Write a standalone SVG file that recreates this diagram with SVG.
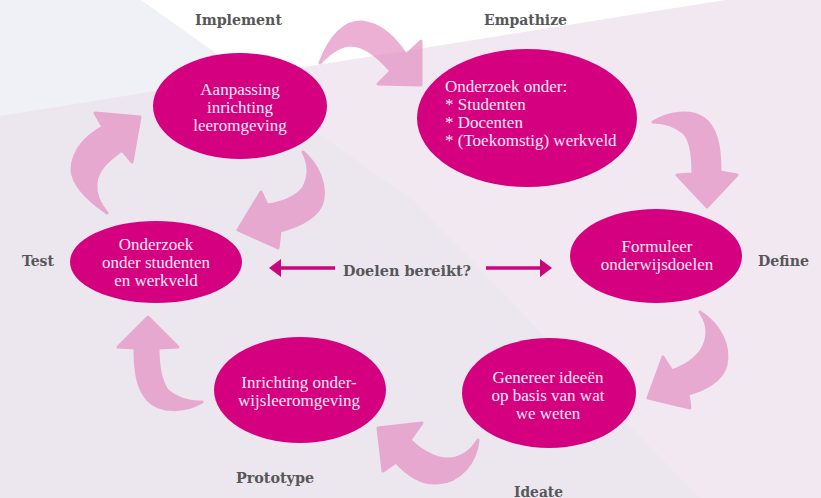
<svg xmlns="http://www.w3.org/2000/svg" width="821" height="498" viewBox="0 0 821 498">
  <style>
    .node { fill: #d5007f; }
    .ntext { font-family: "Liberation Serif", "DejaVu Serif", serif; font-size: 17px; fill: #fde9f5; }
    .label { font-family: "DejaVu Serif Condensed", "DejaVu Serif", serif; font-stretch: condensed; font-weight: bold; font-size: 15px; fill: #575757; }
    .cycle path { fill: #e48fc2; stroke: #e48fc2; stroke-width: 3; stroke-linejoin: round; }
    .goal { stroke: #c9067b; stroke-width: 3.5; fill: none; }
    .goalhead { fill: #c9067b; }
  </style>

  <!-- background planes -->
  <g id="background">
    <rect x="0" y="0" width="821" height="498" fill="#f1e8f1"/>
    <polygon points="0,116 248,76 327,140 413,200 524,315 633,430 700,498 0,498" fill="#ece6ef"/>
    <polygon points="0,0 141,0 248,76 0,116" fill="#f0f1f6"/>
    <polygon points="141,0 725,0 248,76" fill="#ffffff"/>
  </g>

  <!-- curved cycle arrows -->
  <g id="connectors">
    <g class="cycle" opacity="0.7">
      <path d="M320,63 C330,36 345,21 362,22 C380,24 395,38 406,55 L421,41 L421,85 L378,84 L391,71 C378,56 365,46 352,45 C340,45 330,52 320,63 Z"/>
      <path d="M653,122 C670,112 690,110 703,118 C716,127 720,145 720,172 L737,175 L707,207 L677,175 L693,174 C693,155 691,140 684,133 C675,125 665,122 653,122 Z"/>
      <path d="M700,312 C720,325 730,345 726,365 C722,380 705,390 688,394 L690,408 L648,398 L663,357 L672,371 C685,366 700,358 705,343 C709,332 707,322 700,312 Z"/>
      <path d="M478,440 C476,462 460,482 437,483 C420,484 405,472 396,462 L383,471 L378,428 L422,423 L410,440 C420,450 435,460 450,459 C462,458 472,450 478,440 Z"/>
      <path d="M202,402 C185,412 160,413 148,400 C137,388 135,370 135,348 L118,347 L148,317 L178,347 L158,348 C158,365 160,380 167,390 C178,400 190,402 202,402 Z"/>
      <path d="M107,213 C88,200 73,185 72,170 C72,150 88,135 103,127 L95,113 L140,117 L132,162 L122,150 C108,160 97,170 96,183 C95,195 100,205 107,213 Z"/>
      <path d="M303,152 C318,165 327,185 322,203 C317,218 298,226 280,231 L278,248 L238,230 L261,192 L267,205 C282,203 298,197 304,187 C310,175 309,163 303,152 Z"/>
    </g>
    <!-- goal check double arrow -->
    <g id="goal-check">
      <line class="goal" x1="279" y1="268" x2="335" y2="268"/>
      <polygon class="goalhead" points="269,268 281,259 281,277"/>
      <line class="goal" x1="486" y1="268" x2="542" y2="268"/>
      <polygon class="goalhead" points="552,268 540,259 540,277"/>
      <text class="label" x="407" y="276" text-anchor="middle" textLength="128" lengthAdjust="spacingAndGlyphs">Doelen bereikt?</text>
    </g>
  </g>

  <g id="implement">
    <ellipse class="node" cx="240" cy="106" rx="87" ry="53"/>
    <text class="ntext" text-anchor="middle"><tspan x="240" y="95">Aanpassing</tspan><tspan x="240" y="113">inrichting</tspan><tspan x="240" y="131">leeromgeving</tspan></text>
    <text class="label" x="238.5" y="25" text-anchor="middle" textLength="87" lengthAdjust="spacingAndGlyphs">Implement</text>
  </g>

  <g id="empathize">
    <ellipse class="node" cx="527" cy="118" rx="110" ry="69"/>
    <text class="ntext"><tspan x="445" y="92">Onderzoek onder:</tspan><tspan x="445" y="110">* Studenten</tspan><tspan x="445" y="128">* Docenten</tspan><tspan x="445" y="146">* (Toekomstig) werkveld</tspan></text>
    <text class="label" x="525.5" y="25" text-anchor="middle" textLength="83" lengthAdjust="spacingAndGlyphs">Empathize</text>
  </g>

  <g id="define">
    <ellipse class="node" cx="656" cy="256" rx="86" ry="47"/>
    <text class="ntext" text-anchor="middle"><tspan x="657" y="252">Formuleer</tspan><tspan x="657" y="270">onderwijsdoelen</tspan></text>
    <text class="label" x="783.5" y="266" text-anchor="middle" textLength="51" lengthAdjust="spacingAndGlyphs">Define</text>
  </g>

  <g id="ideate">
    <ellipse class="node" cx="549" cy="393" rx="87" ry="55"/>
    <text class="ntext" text-anchor="middle"><tspan x="548" y="383">Genereer ideeën</tspan><tspan x="548" y="401">op basis van wat</tspan><tspan x="548" y="419">we weten</tspan></text>
    <text class="label" x="538.5" y="497" text-anchor="middle" textLength="49" lengthAdjust="spacingAndGlyphs">Ideate</text>
  </g>

  <g id="prototype">
    <ellipse class="node" cx="300" cy="390" rx="86" ry="53"/>
    <text class="ntext" text-anchor="middle"><tspan x="299" y="388">Inrichting onder-</tspan><tspan x="299" y="406">wijsleeromgeving</tspan></text>
    <text class="label" x="275" y="483" text-anchor="middle" textLength="78" lengthAdjust="spacingAndGlyphs">Prototype</text>
  </g>

  <g id="test">
    <ellipse class="node" cx="156" cy="262" rx="86" ry="41"/>
    <text class="ntext" text-anchor="middle"><tspan x="156" y="250">Onderzoek</tspan><tspan x="156" y="268">onder studenten</tspan><tspan x="156" y="286">en werkveld</tspan></text>
    <text class="label" x="38" y="266" text-anchor="middle" textLength="32" lengthAdjust="spacingAndGlyphs">Test</text>
  </g>
</svg>
